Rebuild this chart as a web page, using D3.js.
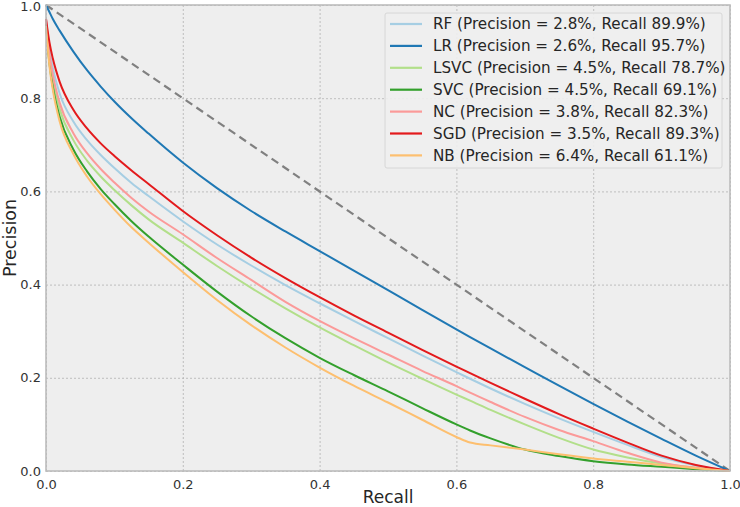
<!DOCTYPE html>
<html>
<head>
<meta charset="utf-8">
<script src="https://cdn.jsdelivr.net/npm/d3@7"></script>
<style>
  body { margin: 0; background: #fff; }
  text { font-family: "DejaVu Sans", sans-serif; }
</style>
</head>
<body>
<div id="chart"></div>
<script>
// Precision-recall curves per model

const recall = [0, 0.005, 0.01, 0.02, 0.04, 0.06, 0.08, 0.1, 0.125, 0.15, 0.2, 0.25, 0.3, 0.35, 0.4,
  0.45, 0.5, 0.55, 0.6, 0.62, 0.65, 0.7, 0.75, 0.8, 0.85, 0.9, 0.95, 1.0];

const modelNames = [
  "RF (Precision = 2.8%, Recall 89.9%)",
  "LR (Precision = 2.6%, Recall 95.7%)",
  "LSVC (Precision = 4.5%, Recall 78.7%)",
  "SVC (Precision = 4.5%, Recall 69.1%)",
  "NC (Precision = 3.8%, Recall 82.3%)",
  "SGD (Precision = 3.5%, Recall 89.3%)",
  "NB (Precision = 6.4%, Recall 61.1%)"
];

const colors = ["#a6cee3", "#1f78b4", "#b2df8a", "#33a02c", "#fb9a99", "#e31a1c", "#fdbf6f"];

const precisionRF = [0.97, 0.905, 0.865, 0.81, 0.75, 0.71, 0.678, 0.65, 0.618, 0.59, 0.536, 0.486, 0.441, 0.399,
  0.36, 0.322, 0.285, 0.248, 0.212, 0.198, 0.177, 0.144, 0.113, 0.084, 0.056, 0.03, 0.012, 0];
const precisionLR = [1.0, 0.985, 0.97, 0.945, 0.9, 0.86, 0.825, 0.793, 0.757, 0.724, 0.662, 0.607, 0.558, 0.514,
  0.472, 0.43, 0.388, 0.346, 0.304, 0.2875, 0.263, 0.223, 0.183, 0.144, 0.106, 0.069, 0.033, 0];
const precisionLSVC = [0.96, 0.885, 0.84, 0.777, 0.71, 0.666, 0.632, 0.603, 0.57, 0.54, 0.49, 0.44, 0.393, 0.349,
  0.308, 0.27, 0.233, 0.198, 0.164, 0.151, 0.131, 0.1, 0.071, 0.046, 0.029, 0.016, 0.007, 0];
const precisionSVC = [0.96, 0.875, 0.825, 0.76, 0.69, 0.643, 0.605, 0.573, 0.536, 0.503, 0.443, 0.385, 0.332, 0.285,
  0.243, 0.206, 0.171, 0.135, 0.1, 0.087, 0.07, 0.046, 0.032, 0.021, 0.014, 0.009, 0.004, 0];
const precisionNC = [0.97, 0.895, 0.85, 0.79, 0.725, 0.682, 0.648, 0.619, 0.586, 0.557, 0.508, 0.457, 0.41, 0.363,
  0.322, 0.285, 0.25, 0.215, 0.182, 0.168, 0.148, 0.116, 0.088, 0.064, 0.039, 0.018, 0.007, 0];
const precisionSGD = [0.97, 0.92, 0.885, 0.835, 0.775, 0.735, 0.703, 0.676, 0.645, 0.616, 0.558, 0.506, 0.458, 0.414,
  0.373, 0.334, 0.297, 0.26, 0.224, 0.21, 0.189, 0.155, 0.122, 0.091, 0.061, 0.033, 0.013, 0];
const precisionNB = [0.955, 0.87, 0.818, 0.75, 0.68, 0.632, 0.594, 0.561, 0.523, 0.49, 0.427, 0.367, 0.313, 0.265,
  0.222, 0.183, 0.147, 0.11, 0.073, 0.061, 0.055, 0.046, 0.036, 0.027, 0.02, 0.013, 0.006, 0];

const precisionSeries = [precisionRF, precisionLR, precisionLSVC, precisionSVC, precisionNC, precisionSGD, precisionNB];

const tickValues = [0, 0.2, 0.4, 0.6, 0.8, 1.0];

function renderPR(containerId) {
  const width = 740, height = 507;
  const margin = { top: 5, right: 10, bottom: 36, left: 46 };
  const innerWidth = width - margin.left - margin.right;
  const innerHeight = height - margin.top - margin.bottom;

  const svg = d3.select(`#${containerId}`)
    .append("svg")
    .attr("width", width)
    .attr("height", height);

  const g = svg.append("g")
    .attr("transform", `translate(${margin.left},${margin.top})`);

  const x = d3.scaleLinear().domain([0, 1]).range([0, innerWidth]);
  const y = d3.scaleLinear().domain([0, 1]).range([innerHeight, 0]);

  // background
  g.append("rect")
    .attr("width", innerWidth)
    .attr("height", innerHeight)
    .attr("fill", "#eeeeee");

  // grid lines
  g.append("g")
    .attr("transform", `translate(0,${innerHeight})`)
    .call(d3.axisBottom(x).tickValues(tickValues).tickSize(-innerHeight).tickFormat(""))
    .call(s => s.select(".domain").remove())
    .selectAll("line")
    .attr("stroke", "#b2b2b2")
    .attr("stroke-width", 0.8)
    .attr("stroke-dasharray", "2,2");

  g.append("g")
    .call(d3.axisLeft(y).tickValues(tickValues).tickSize(-innerWidth).tickFormat(""))
    .call(s => s.select(".domain").remove())
    .selectAll("line")
    .attr("stroke", "#b2b2b2")
    .attr("stroke-width", 0.8)
    .attr("stroke-dasharray", "2,2");

  // tick labels
  const xAxis = g.append("g")
    .attr("transform", `translate(0,${innerHeight})`)
    .call(d3.axisBottom(x).tickValues(tickValues).tickSize(0).tickPadding(9).tickFormat(d3.format(".1f")));
  xAxis.select(".domain").remove();
  xAxis.selectAll("text").style("font-size", "13px").attr("fill", "#333");

  const yAxis = g.append("g")
    .call(d3.axisLeft(y).tickValues(tickValues).tickSize(0).tickPadding(5).tickFormat(d3.format(".1f")));
  yAxis.select(".domain").remove();
  yAxis.selectAll("text").style("font-size", "13px").attr("fill", "#333");
  // keep the top label inside the page
  yAxis.selectAll(".tick").filter(d => d === 1).select("text").attr("dy", "0.45em");

  // chance diagonal
  g.append("path")
    .datum([[0, 1], [1, 0]])
    .attr("fill", "none")
    .attr("stroke", "#808080")
    .attr("stroke-width", 2.2)
    .attr("stroke-dasharray", "8,5")
    .attr("d", d3.line().x(d => x(d[0])).y(d => y(d[1])));

  const line = d3.line()
    .x((d, i) => x(recall[i]))
    .y(d => y(d))
    .curve(d3.curveMonotoneX);

  g.selectAll(".pr-line")
    .data(precisionSeries)
    .join("path")
    .attr("class", "pr-line")
    .attr("fill", "none")
    .attr("stroke", (d, i) => colors[i])
    .attr("stroke-width", 2)
    .attr("d", line);

  // frame
  g.append("rect")
    .attr("width", innerWidth)
    .attr("height", innerHeight)
    .attr("fill", "none")
    .attr("stroke", "#bcbcbc")
    .attr("stroke-width", 1.6);

  // legend
  const legend = g.append("g")
    .attr("transform", `translate(${385 - margin.left},${13 - margin.top})`);

  legend.append("rect")
    .attr("width", 337)
    .attr("height", 155)
    .attr("rx", 2)
    .attr("fill", "#eeeeee")
    .attr("fill-opacity", 0.9)
    .attr("stroke", "#d0d0d0")
    .attr("stroke-width", 0.8);

  const rows = legend.selectAll(".row")
    .data(modelNames)
    .join("g")
    .attr("class", "row")
    .attr("transform", (d, i) => `translate(0,${11 + i * 21.9})`);

  rows.append("line")
    .attr("x1", 5).attr("x2", 37)
    .attr("stroke", (d, i) => colors[i])
    .attr("stroke-width", 2.2);

  rows.append("text")
    .attr("x", 48)
    .attr("dy", "0.35em")
    .style("font-size", "15.2px")
    .attr("fill", "#262626")
    .text(d => d);

  // axis labels
  svg.append("text")
    .attr("x", margin.left + innerWidth / 2)
    .attr("y", height - 4)
    .attr("text-anchor", "middle")
    .style("font-size", "17px")
    .attr("fill", "#262626")
    .text("Recall");

  svg.append("text")
    .attr("transform", `translate(16,${margin.top + innerHeight / 2}) rotate(-90)`)
    .attr("text-anchor", "middle")
    .style("font-size", "17.5px")
    .attr("fill", "#262626")
    .text("Precision");
}

renderPR("chart");
</script>
</body>
</html>
